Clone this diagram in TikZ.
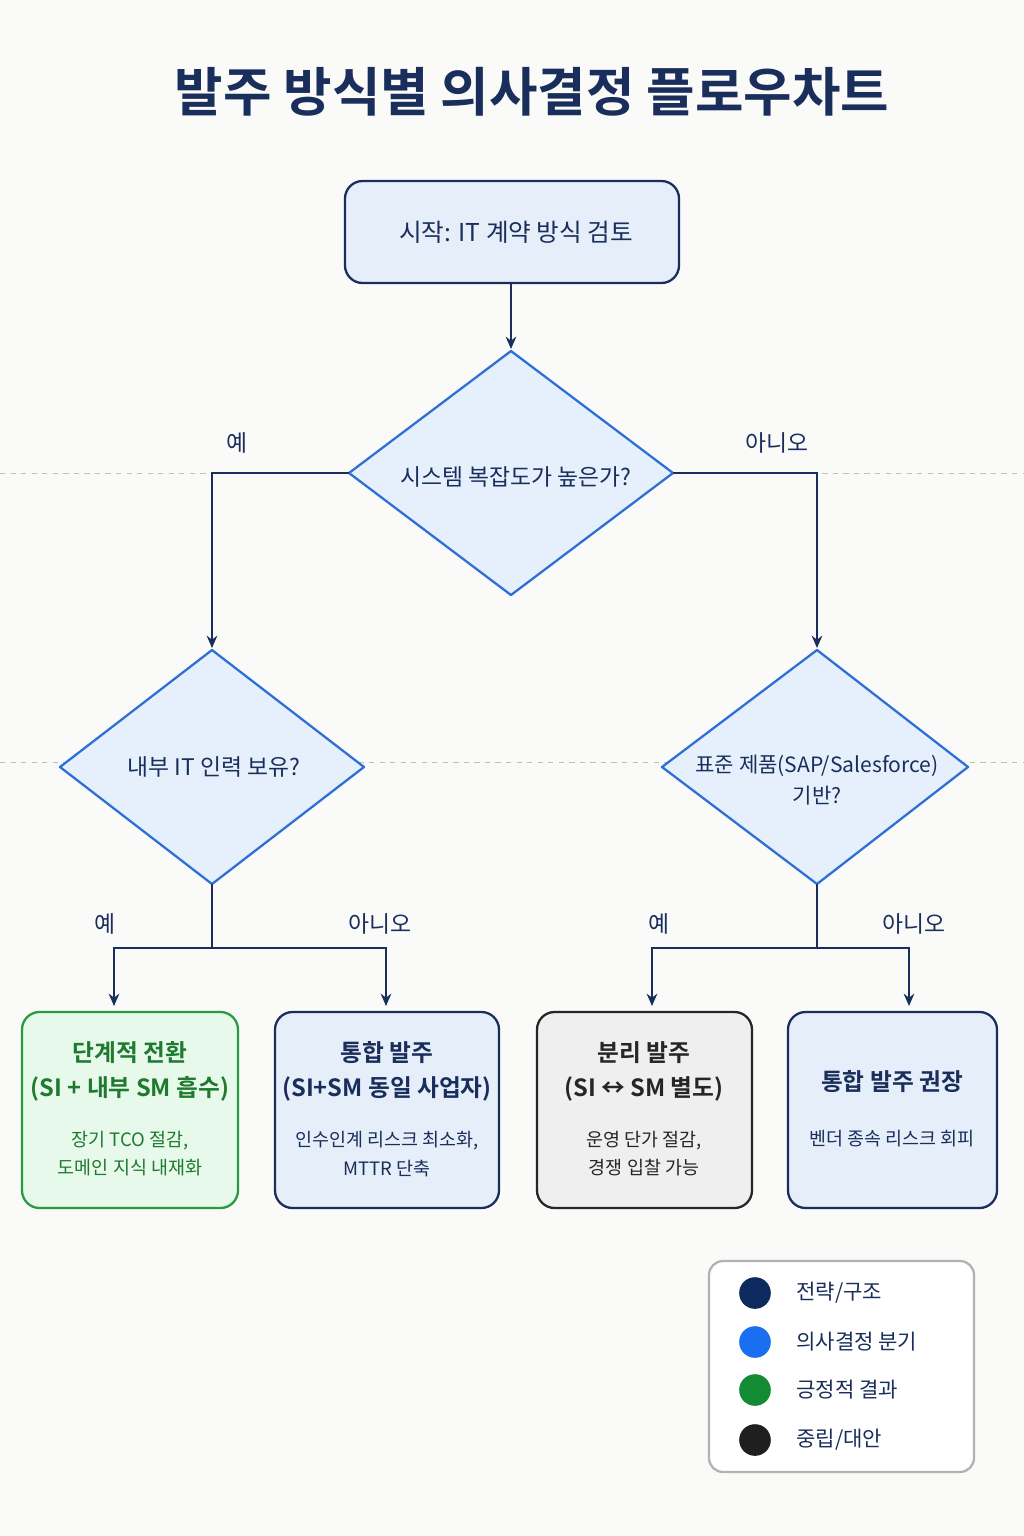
\documentclass[tikz,border=0pt]{standalone}
\usepackage{fontspec}
\setmainfont{Noto Sans CJK KR}
\newfontfamily\krbold{Noto Sans CJK KR Bold}
\usetikzlibrary{positioning, arrows.meta}
\definecolor{NavyLine}{HTML}{1A2E5C}
\definecolor{BlueLine}{HTML}{2F6FD6}
\definecolor{GreenLine}{HTML}{2A9A40}
\definecolor{GreenText}{HTML}{1F7A30}
\definecolor{FillBlue}{HTML}{E6EEF9}
\definecolor{FillDiamond}{HTML}{E6F0FC}
\definecolor{FillGreen}{HTML}{E6F9EA}
\definecolor{FillGray}{HTML}{EFEFEF}
\definecolor{PaperColor}{HTML}{FAFAF8}
\tikzset{
  decision/.style={draw=BlueLine, fill=FillDiamond, line width=1.3pt, line join=round},
  question/.style={font=\fontsize{13}{18}\selectfont, text=NavyLine, align=center},
  card/.style={line width=1.3pt, rounded corners=10pt},
  flow/.style={draw=NavyLine, line width=1.3pt, -{Stealth[length=7pt,width=6pt]}},
  answer/.style={font=\fontsize{13}{16}\selectfont, text=NavyLine},
  headline/.style={font=\krbold\fontsize{13.5}{20}\selectfont, align=center},
  detail/.style={font=\fontsize{10.5}{16}\selectfont, align=center},
  dot/.style={circle, minimum size=18pt, inner sep=0pt},
  keytext/.style={anchor=west, font=\fontsize{12}{14}\selectfont, text=NavyLine}
}
\begin{document}
\begin{tikzpicture}[x=0.02cm, y=-0.02cm]
  \fill[PaperColor] (0,0) rectangle (1024,1536);
  \useasboundingbox (0,0) rectangle (1024,1536);

  \node[font=\krbold\fontsize{30}{36}\selectfont, text=NavyLine] (title) at (532,92) {발주 방식별 의사결정 플로우차트};

  % 보조선
  \draw[gray!50, dashed] (0,473) -- (1024,473);
  \draw[gray!50, dashed] (0,762) -- (1024,762);

  \draw[card, draw=NavyLine, fill=FillBlue] (345,181) rectangle (679,283);
  \node[font=\fontsize{14}{18}\selectfont, text=NavyLine] (start) at (516,232) {시작: IT 계약 방식 검토};
  \coordinate (startbot) at (511,283);

  \draw[decision] (511,351) -- (673,473) -- (511,595) -- (349,473) -- cycle;
  \node[question] (complex) at (516,477) {시스템 복잡도가 높은가?};
  \coordinate (cTop) at (511,349);
  \coordinate (cL) at (349,473);
  \coordinate (cR) at (673,473);

  \draw[decision] (212,650) -- (364,767) -- (212,884) -- (60,767) -- cycle;
  \node[question] (inhouse) at (214,767) {내부 IT 인력 보유?};
  \coordinate (inTop) at (212,648);
  \coordinate (inBot) at (212,884);

  \draw[decision] (817,650) -- (968,767) -- (817,884) -- (662,767) -- cycle;
  \node[question, font=\fontsize{12}{18}\selectfont] (standard) at (817,780) {표준 제품(SAP/Salesforce)\\기반?};
  \coordinate (stTop) at (817,648);
  \coordinate (stBot) at (817,884);

  % 결과 상자
  \draw[card, draw=GreenLine, fill=FillGreen] (22,1012) rectangle (238,1208);
  \draw[card, draw=NavyLine, fill=FillBlue] (275,1012) rectangle (499,1208);
  \draw[card, draw=black!85, fill=FillGray] (537,1012) rectangle (752,1208);
  \draw[card, draw=NavyLine, fill=FillBlue] (788,1012) rectangle (997,1208);

  \node[headline, text=GreenText] (phase) at (130,1071) {단계적 전환\\(SI + 내부 SM 흡수)};
  \node[detail, text=GreenText] (phasetxt) at (130,1154) {장기 TCO 절감,\\도메인 지식 내재화};
  \node[headline, text=NavyLine] (unified) at (387,1071) {통합 발주\\(SI+SM 동일 사업자)};
  \node[detail, text=NavyLine] (unifiedtxt) at (387,1154) {인수인계 리스크 최소화,\\MTTR 단축};
  \node[headline, text=black!85] (split) at (644,1071) {분리 발주\\(SI ↔ SM 별도)};
  \node[detail, text=black!85] (splittxt) at (644,1154) {운영 단가 절감,\\경쟁 입찰 가능};
  \node[headline, text=NavyLine] (advise) at (892,1082) {통합 발주 권장};
  \node[detail, text=NavyLine] (advisetxt) at (892,1139) {벤더 종속 리스크 회피};

  \coordinate (phaseTop) at (114,1006);
  \coordinate (unifiedTop) at (386,1006);
  \coordinate (splitTop) at (652,1006);
  \coordinate (adviseTop) at (909,1006);

  % 연결선
  \draw[flow] (startbot) -- (cTop);
  \draw[flow] (cL) -| (inTop);
  \draw[flow] (cR) -| (stTop);
  \draw[NavyLine, line width=1.3pt] (inBot) -- (212,948);
  \draw[flow] (212,948) -| (phaseTop);
  \draw[flow] (212,948) -| (unifiedTop);
  \draw[NavyLine, line width=1.3pt] (stBot) -- (817,948);
  \draw[flow] (817,948) -| (splitTop);
  \draw[flow] (817,948) -| (adviseTop);

  \node[answer] (yes1) at (237,443) {예};
  \node[answer] (no1) at (777,443) {아니오};
  \node[answer] (yes2) at (105,924) {예};
  \node[answer] (no2) at (380,924) {아니오};
  \node[answer] (yes3) at (659,924) {예};
  \node[answer] (no3) at (914,924) {아니오};

  % 범례
  \draw[gray!60, fill=white, line width=1.3pt, rounded corners=8pt] (709,1261) rectangle (974,1472);
  \node[dot, fill={rgb,255:red,13;green,42;blue,94}] (k1) at (755,1293) {};
  \node[dot, fill={rgb,255:red,26;green,111;blue,240}] (k2) at (755,1342) {};
  \node[dot, fill={rgb,255:red,19;green,138;blue,52}] (k3) at (755,1390) {};
  \node[dot, fill=black!88] (k4) at (755,1440) {};
  \node[keytext] at (790,1293) {전략/구조};
  \node[keytext] at (790,1342) {의사결정 분기};
  \node[keytext] at (790,1390) {긍정적 결과};
  \node[keytext] at (790,1440) {중립/대안};
\end{tikzpicture}
\end{document}
